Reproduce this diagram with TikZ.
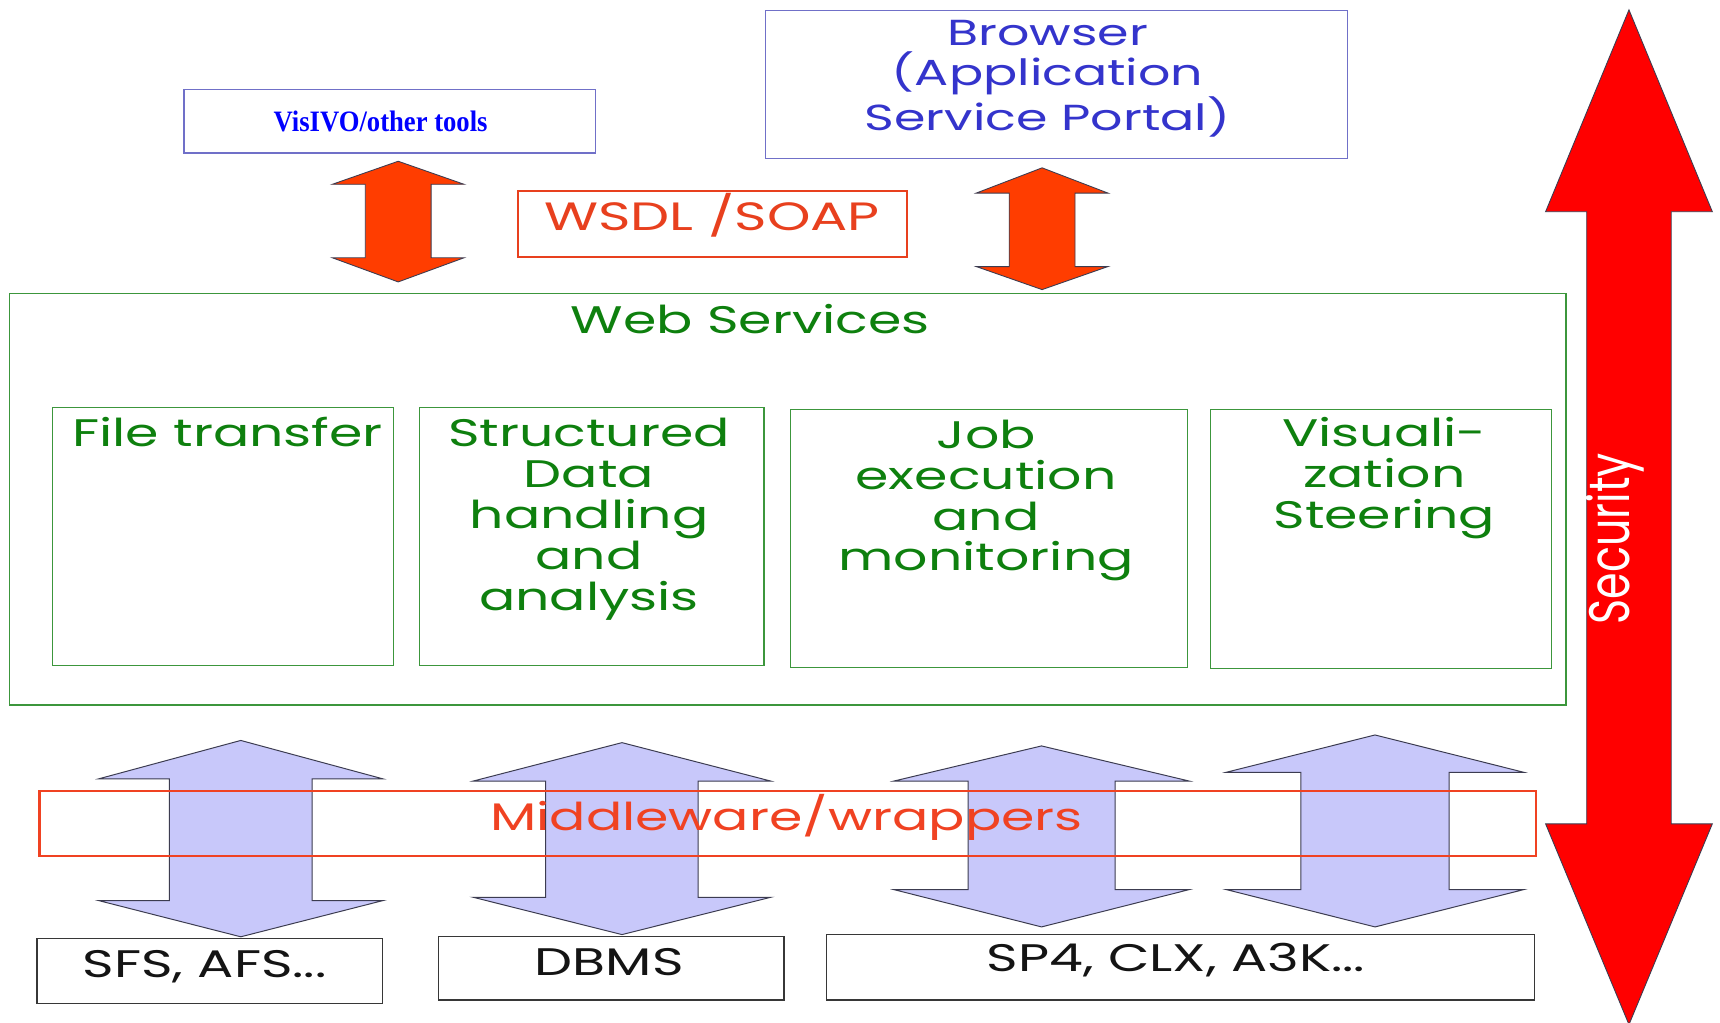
\documentclass[tikz,border=0pt]{standalone}
\usepackage{fontspec}
\setmainfont{Poppins}[FakeStretch=1.4]
\newfontfamily\visfont{Liberation Serif}[FakeStretch=0.9]
\newfontfamily\secfont{Poppins}[FakeStretch=0.75]

\definecolor{boxblue}{RGB}{112,112,200}
\definecolor{txtblue}{RGB}{52,52,204}
\definecolor{pureblue}{RGB}{0,0,255}
\definecolor{wsred}{RGB}{232,64,30}
\definecolor{mwred}{RGB}{240,66,34}
\definecolor{boxgreen}{RGB}{60,150,60}
\definecolor{txtgreen}{RGB}{14,128,14}
\definecolor{arrorange}{RGB}{255,61,0}
\definecolor{secred}{RGB}{255,0,0}
\definecolor{lav}{RGB}{200,200,250}
\definecolor{edgedark}{RGB}{60,60,80}
\definecolor{txtblack}{RGB}{20,20,20}

% double-headed block arrow: style, centre x, half head width, half shaft width,
% top tip y, top head base y, bottom head base y, bottom tip y
\newcommand{\blockarrow}[8]{%
  \filldraw[#1] (#2,#5) -- (#2+#3,#6) -- (#2+#4,#6) -- (#2+#4,#7) -- (#2+#3,#7)
    -- (#2,#8) -- (#2-#3,#7) -- (#2-#4,#7) -- (#2-#4,#6) -- (#2-#3,#6) -- cycle;}

\begin{document}
\begin{tikzpicture}[x=1pt,y=-1pt,
  frame/.style={draw, inner sep=0pt, anchor=north west},
  bluebox/.style={frame, draw=boxblue, line width=1.3pt},
  redbox/.style={frame, draw=wsred, line width=2pt},
  greenbox/.style={frame, draw=boxgreen, line width=1.2pt},
  greybox/.style={frame, draw=txtblack!85, line width=1.3pt},
  label/.style={inner sep=0pt, anchor=base, align=center},
  greentxt/.style={label, text=txtgreen, font=\fontsize{35}{37.3}\selectfont},
  orangearrow/.style={fill=arrorange, draw=edgedark, line width=0.8pt, line join=miter},
  lavarrow/.style={fill=lav, draw=edgedark, line width=0.9pt, line join=miter},
  secarrow/.style={fill=secred, draw=edgedark, line width=0.8pt, line join=miter}]

\fill[white] (0,0) rectangle (1568,932);
\useasboundingbox (0,0) rectangle (1568,932);

% ---------- client side ----------
\node[bluebox, minimum width=375pt, minimum height=58pt] (visivo) at (167,81) {};
\node[label, text=pureblue, font=\visfont\bfseries\fontsize{27}{30}\selectfont]
  (visivotxt) at (347,119.5) {VisIVO/other tools};

\node[bluebox, minimum width=531pt, minimum height=135pt] (browser) at (697,9) {};
% multi-line labels are anchored at the baseline of their last line
\node[label, text=txtblue, font=\fontsize{33}{36.5}\selectfont]
  (browsertxt) at (955,118.6) {Browser\\(Application\\Service Portal)};

\node[redbox, minimum width=355pt, minimum height=60pt] (wsdl) at (471,173) {};
\node[label, text=wsred, font=\fontsize{36}{40}\selectfont]
  (wsdltxt) at (649,210.5) {WSDL /SOAP};

\blockarrow{orangearrow}{363}{60}{30}{147}{168}{235}{257}
\blockarrow{orangearrow}{950}{60}{30}{153}{176}{243}{264}

% ---------- web services layer ----------
\node[greenbox, minimum width=1419pt, minimum height=375pt] (ws) at (8,267) {};
\node[label, text=txtgreen, font=\fontsize{35}{40}\selectfont]
  (wstxt) at (684,303.6) {Web Services};

\node[greenbox, minimum width=311pt, minimum height=235pt] (ft) at (47,371) {};
\node[greentxt] (fttxt) at (207.5,407) {File transfer};

\node[greenbox, minimum width=314pt, minimum height=235pt] (sd) at (382,371) {};
\node[greentxt] (sdtxt) at (537,556.2) {Structured\\Data\\handling\\and\\analysis};

\node[greenbox, minimum width=362pt, minimum height=235pt] (job) at (720,373) {};
\node[greentxt] (jobtxt) at (899,520.5) {Job\\execution\\and\\monitoring};

\node[greenbox, minimum width=311pt, minimum height=236pt] (vis) at (1103,373) {};
\node[greentxt] (vistxt) at (1262,481.6) {Visuali-\\zation\\Steering};

% ---------- middleware and back ends ----------
\blockarrow{lavarrow}{219.5}{129.5}{65}{675}{710}{821}{854}
\blockarrow{lavarrow}{567}{135.5}{69.5}{677}{712}{818}{852}
\blockarrow{lavarrow}{949.5}{134.5}{67}{680}{712}{811}{845}
\blockarrow{lavarrow}{1253.5}{135.5}{67.5}{670}{704}{811}{845}

\node[redbox, draw=mwred, minimum width=1364pt, minimum height=59pt] (mw) at (35,720) {};
\node[label, text=mwred, font=\fontsize{35}{40}\selectfont]
  (mwtxt) at (717,757.5) {Middleware/wrappers};

\node[greybox, minimum width=315pt, minimum height=59pt] (sfs) at (33,855) {};
\node[label, text=txtblack, font=\fontsize{35}{40}\selectfont]
  (sfstxt) at (186.5,891.5) {SFS, AFS...};

\node[greybox, minimum width=315pt, minimum height=58pt] (dbms) at (399,853) {};
\node[label, text=txtblack, font=\fontsize{35}{40}\selectfont]
  (dbmstxt) at (555.5,889.6) {DBMS};

\node[greybox, minimum width=645pt, minimum height=60pt] (sp) at (753,851) {};
\node[label, text=txtblack, font=\fontsize{35}{40}\selectfont]
  (sptxt) at (1072,886) {SP4, CLX, A3K...};

% ---------- security, spanning all layers ----------
\blockarrow{secarrow}{1485}{76}{38.5}{9}{193}{751}{934}
\node[inner sep=0pt, rotate=90, text=white, font=\secfont\fontsize{52}{56}\selectfont]
  (sectxt) at (1472,491) {Security};

\end{tikzpicture}
\end{document}
